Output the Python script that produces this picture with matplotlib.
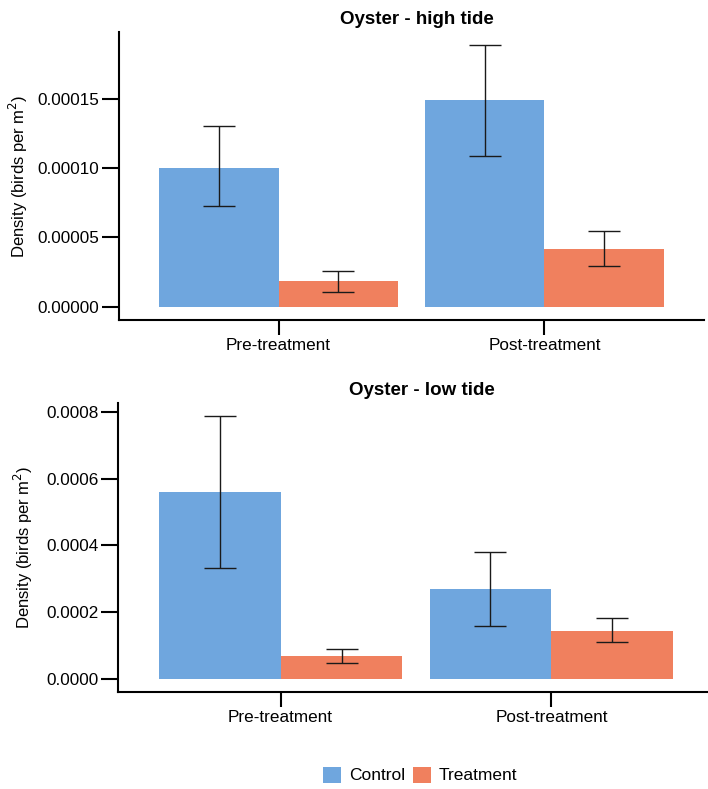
import matplotlib
matplotlib.use("Agg")
import matplotlib.pyplot as plt
from matplotlib.patches import Patch
import numpy as np

plt.rcParams['font.family'] = ['Liberation Sans', 'DejaVu Sans']

periods = ["Pre-treatment", "Post-treatment"]
groups = ["Control", "Treatment"]
colors = {"Control": "#6FA6DE", "Treatment": "#F0805E"}

# High tide panel
high_mean = {"Control": [0.000100, 0.000149], "Treatment": [0.0000185, 0.0000420]}
high_lo = {"Control": [0.0000725, 0.000109], "Treatment": [0.0000110, 0.0000297]}
high_hi = {"Control": [0.000130, 0.0001885], "Treatment": [0.0000262, 0.0000548]}
high_ticks = [0.0, 0.00005, 0.00010, 0.00015]
high_ticklabels = ["0.00000", "0.00005", "0.00010", "0.00015"]

# Low tide panel
low_mean = {"Control": [0.000560, 0.000270], "Treatment": [0.0000690, 0.000144]}
low_lo = {"Control": [0.000333, 0.000159], "Treatment": [0.0000480, 0.000111]}
low_hi = {"Control": [0.000788, 0.000380], "Treatment": [0.0000900, 0.000183]}
low_ticks = [0.0, 0.0002, 0.0004, 0.0006, 0.0008]
low_ticklabels = ["0.0000", "0.0002", "0.0004", "0.0006", "0.0008"]

W, H = 708, 789
fig = plt.figure(figsize=(W / 100, H / 100), dpi=100)

def px_axes(left, top, right, bottom):
    return fig.add_axes([left / W, 1 - bottom / H, (right - left) / W, (bottom - top) / H])

def draw(ax, means, los, his, ticks, ticklabels, title, ymax):
    x = np.arange(1, len(periods) + 1)
    width = 0.45
    offsets = {"Control": -width / 2, "Treatment": width / 2}
    for g in groups:
        xs = x + offsets[g]
        m = np.array(means[g])
        ax.bar(xs, m, width=width, color=colors[g], edgecolor="none", zorder=2)
        lo = m - np.array(los[g])
        hi = np.array(his[g]) - m
        ax.errorbar(xs, m, yerr=[lo, hi], fmt="none", ecolor="#1a1a1a",
                    elinewidth=1.0, capsize=11.5, capthick=1.0, zorder=3)
    ax.set_xlim(0.4, 2.6)
    span = ymax
    ax.set_ylim(-0.05 * span, ymax * 1.05)
    ax.set_xticks(x)
    ax.set_xticklabels(periods, fontsize=12.3)
    ax.set_yticks(ticks)
    ax.set_yticklabels(ticklabels, fontsize=12.3)
    for s in ["top", "right"]:
        ax.spines[s].set_visible(False)
    for s in ["left", "bottom"]:
        ax.spines[s].set_linewidth(1.5)
        ax.spines[s].set_color("black")
    ax.tick_params(axis="y", length=12, width=1.5, pad=2, colors="black")
    ax.tick_params(axis="x", length=11, width=1.5, pad=2, colors="black")
    ax.set_title(title, fontsize=13.5, fontweight="bold", pad=6, x=0.51)
    ax.set_ylabel("Density (birds per m$^2$)", fontsize=12)

ax1 = px_axes(119, 32, 704, 320)
draw(ax1, high_mean, high_lo, high_hi, high_ticks, high_ticklabels, "Oyster - high tide",
     max(max(v) for v in high_hi.values()))
ax1.yaxis.set_label_coords(-0.152, 0.5)

ax2 = px_axes(118, 403, 714, 692)
draw(ax2, low_mean, low_lo, low_hi, low_ticks, low_ticklabels, "Oyster - low tide",
     max(max(v) for v in low_hi.values()))
ax2.yaxis.set_label_coords(-0.139, 0.5)

handles = [Patch(facecolor=colors[g], edgecolor="none", label=g) for g in groups]
fig.legend(handles=handles, loc="center", bbox_to_anchor=(420 / W, 1 - 775 / H), ncol=2,
           frameon=False, fontsize=12.5, handlelength=1.05, handleheight=1.05,
           handletextpad=0.45, columnspacing=0.45)

fig.savefig("out.png", dpi=100)
